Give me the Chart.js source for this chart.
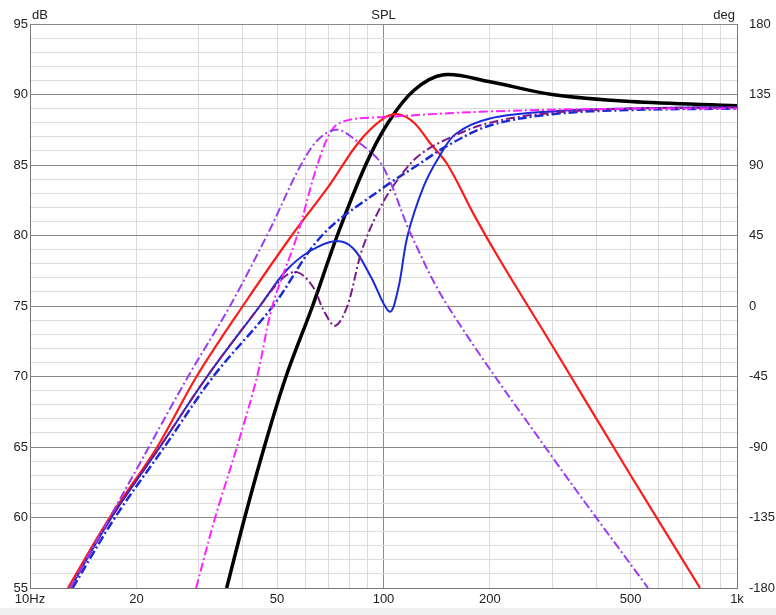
<!DOCTYPE html>
<html><head><meta charset="utf-8">
<script src="https://cdn.jsdelivr.net/npm/chart.js@4.4.0/dist/chart.umd.min.js"></script>
<style>html,body{margin:0;padding:0;background:#fff}#w{width:776px;height:615px;position:relative}
#strip{position:absolute;left:0;top:608px;width:776px;height:7px;background:#f0f0f0}</style>
</head><body><div id="w"><canvas id="c" width="776" height="615"></canvas><div id="strip"></div></div>
<script>
const xTickLabels = {10:'10Hz',20:'20',50:'50',100:'100',200:'200',500:'500',1000:'1k'};
const redF = [12.8,16.8,22.9,29.6,40,55,70,85,100,110,122,135,152,180,213,300,500,786];
const redV = [55,60,65,70,75,80,83.5,86.6,88.3,88.6,88.0,86.6,85,81.5,78.3,72.2,63,55];
const blackF = [36,40.5,46,53,63,74,89,103,122,148,200,300,500,1000];
const blackV = [55,60,65,70,75,80,85,88,90.3,91.4,90.9,90,89.5,89.2];
const magF = [29.5,33.4,38.5,43.9,48.5,57,65,72,80,100,200,500,1000];
const magV = [55,60,65,70,75,80,85,87.6,88.2,88.4,88.8,89,89];
const violetF = [13,20,28,36.8,46.8,62,73,85,99,120,152,300,560];
const violetV = [55,63.4,70,75,80,86.1,87.5,86.6,85,80,75,64.3,55];
const blueF = [13,17,23.3,31.7,44.7,53,62,73,82,92,104,110,117,130,143,160,200,300,500,1000];
const blueV = [55,60,65,70,75,77.5,78.9,79.6,79.1,77.1,74.6,76.2,80,83.5,85.5,87.2,88.3,88.8,89,89.1];
const maroonF = [13,17,23.3,31.7,44.7,52,57,63,68,73,79,87,98,110,125,150,200,300,500,1000];
const maroonV = [55,60,65,70,75,77,77.4,76.4,74.6,73.6,75,79,82,84,85.6,86.8,88,88.7,89,89.1];
const bdF = [13.2,17.4,24,33,48.7,67,100,125,150,200,300,500,1000];
const bdV = [55,60,65,70,75,80,83.4,85,86.3,87.8,88.6,88.9,89];

const pts=(f,v)=>f.map((x,i)=>({x:x,y:v[i]}));
const dd=[9,3,2,3];
const ds=(d,c,w,dash)=>({data:d,borderColor:c,borderWidth:w,borderDash:dash||[],pointRadius:0,fill:false,tension:0.35,yAxisID:'y'});
const font={family:'Liberation Sans, Arial',size:13};
const xTicks=[];for(const d of [10,100]){for(let k=1;k<10;k++)xTicks.push(d*k);}xTicks.push(1000);

new Chart(document.getElementById('c'),{type:'line',
data:{datasets:[
 ds(pts(violetF,violetV),'#9b3cf0',2,dd),
 ds(pts(magF,magV),'#ff22ff',2,dd),
 ds(pts(maroonF,maroonV),'#7a1a8a',2,dd),
 ds(pts(bdF,bdV),'#1a2ad8',2.5,dd),
 ds(pts(blueF,blueV),'#1a2ad8',2),
 ds(pts(redF,redV),'#ff1a1a',2.2),
 ds(pts(blackF,blackV),'#000000',3.5)
]},
options:{responsive:false,animation:false,layout:{padding:{top:24,right:0,left:0,bottom:0}},
 plugins:{legend:{display:false},tooltip:{enabled:false}},
 scales:{
  x:{type:'logarithmic',min:10,max:1000,
   afterBuildTicks:a=>{a.ticks=xTicks.map(v=>({value:v}));},
   afterFit:a=>{a.height=27;},
   ticks:{autoSkip:false,maxRotation:0,padding:4,color:'#222',font:font,callback:v=>xTickLabels[v]||''},
   grid:{drawTicks:false,color:c=>(c.tick&&c.tick.value===100)?'#8a8a8a':'#dcdcdc',lineWidth:1},
   border:{color:'#777'}},
  y:{min:55,max:95,afterFit:a=>{a.width=30;},
   afterBuildTicks:a=>{const t=[];for(let v=55;v<=95;v++)t.push({value:v});a.ticks=t;},
   ticks:{autoSkip:false,padding:2,color:'#222',font:font,callback:v=>v%5===0?String(v):''},
   grid:{drawTicks:false,color:c=>(c.tick&&c.tick.value%5===0)?'#8a8a8a':'#dcdcdc',lineWidth:1},
   border:{color:'#777'}},
  y2:{position:'right',min:-180,max:180,afterFit:a=>{a.width=39;},
   afterBuildTicks:a=>{const t=[];for(let v=-180;v<=180;v+=45)t.push({value:v});a.ticks=t;},
   ticks:{autoSkip:false,padding:4,color:'#222',font:font},
   grid:{display:false},border:{color:'#777'}}
 }},
plugins:[{id:'titles',afterDraw(ch){const c=ch.ctx,a=ch.chartArea;c.save();c.fillStyle='#222';c.font='13px Liberation Sans, Arial';
 c.textBaseline='bottom';c.textAlign='left';c.fillText('dB',a.left+2,a.top-2);
 c.textAlign='center';c.fillText('SPL',(a.left+a.right)/2,a.top-2);
 c.textAlign='right';c.fillText('deg',a.right-2,a.top-2);c.restore();}}]
});
</script></body></html>
